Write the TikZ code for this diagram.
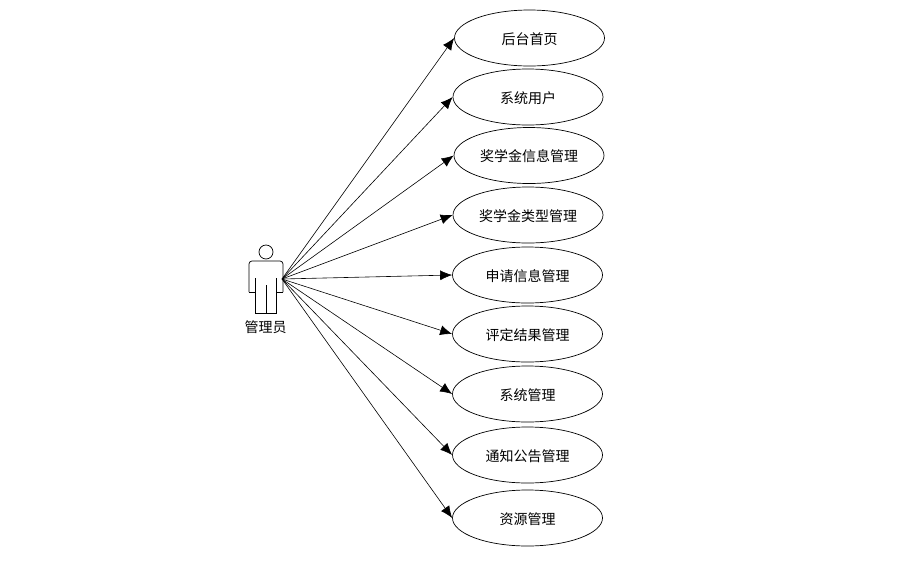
\documentclass[tikz,border=0pt]{standalone}
\usepackage{fontspec}
\setmainfont{Noto Sans CJK SC}
\usetikzlibrary{arrows.meta,shapes.geometric}
\tikzset{
	usecase/.style={draw, ellipse, minimum width=150pt, minimum height=56pt, inner sep=0pt, text height=12.5pt, text depth=0pt, font=\fontsize{14}{16}\selectfont},
	link/.style={-{Latex[length=12pt,width=10pt]}, line width=0.6pt},
}
\begin{document}
\begin{tikzpicture}[x=1pt, y=-1pt, line width=0.7pt]
	\useasboundingbox (0,0) rectangle (914,563);
	\draw (266,252) circle (7);
	\draw[rounded corners=3pt] (249,292) -- (249,261) -- (283,261) -- (283,292);
	\draw (249,292) -- (255.5,292) (283,292) -- (276.5,292);
	\draw (255.5,278) -- (255.5,313) -- (276.5,313) -- (276.5,278);
	\draw (266,285) -- (266,313);
	\coordinate (hand) at (282,279);
	\node[font=\fontsize{14}{16}\selectfont] (actor) at (265.5,327.5) {管理员};
	\node[usecase] (uc1) at (529.5,38) {后台首页};
	\node[usecase] (uc2) at (528,97) {系统用户};
	\node[usecase] (uc3) at (529,155.5) {奖学金信息管理};
	\node[usecase] (uc4) at (528,215) {奖学金类型管理};
	\node[usecase] (uc5) at (527.5,275) {申请信息管理};
	\node[usecase] (uc6) at (527.5,334) {评定结果管理};
	\node[usecase] (uc7) at (527.5,394) {系统管理};
	\node[usecase] (uc8) at (527.5,455) {通知公告管理};
	\node[usecase] (uc9) at (527.5,518) {资源管理};
	\foreach \u in {uc1,uc2,uc3,uc4,uc5,uc6,uc7,uc8,uc9} {\draw[link] (hand) -- (\u.west);}
\end{tikzpicture}
\end{document}
